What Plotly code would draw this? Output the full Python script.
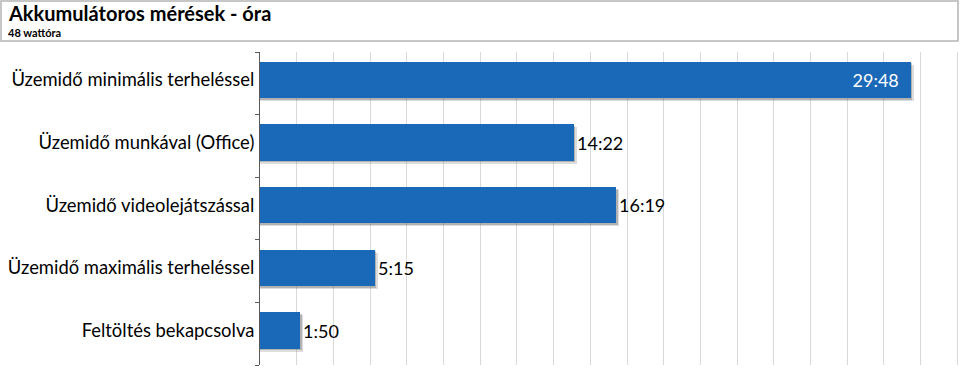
import plotly.graph_objects as go

# ---- data ----
categories = [
    "Üzemidő minimális terheléssel",
    "Üzemidő munkával (Office)",
    "Üzemidő videolejátszással",
    "Üzemidő maximális terheléssel",
    "Feltöltés bekapcsolva",
]
labels = ["29:48", "14:22", "16:19", "5:15", "1:50"]
minutes = [29 * 60 + 48, 14 * 60 + 22, 16 * 60 + 19, 5 * 60 + 15, 1 * 60 + 50]
title_text = "Akkumulátoros mérések - óra"
subtitle_text = "48 wattóra"

# ---- style constants ----
W, H = 960, 380
M_L, M_R, M_T, M_B = 260, 0, 52, 15
PX_PER_MIN = 0.364
X_MAX = (W - M_L - M_R) / PX_PER_MIN
GRID_STEP = 36.7 / PX_PER_MIN
BAR_W = 0.58
Y_TOP, Y_BOT = -0.448, 4.552
PX_PER_UNIT = (H - M_T - M_B) / (Y_BOT - Y_TOP)
SH_DX = 3 / PX_PER_MIN
SH_DY = 3 / PX_PER_UNIT
FONT = "Lato"
LABEL_SIZE = 18.4
VALUE_SIZE = 18
BAR_COLOR = "#1a68b8"

pos = list(range(len(categories)))

fig = go.Figure()
# soft shadow (two layers)
fig.add_trace(go.Bar(
    y=[p + SH_DY for p in pos], x=[v + SH_DX for v in minutes], orientation="h",
    width=BAR_W, marker=dict(color="rgba(120,120,120,0.25)", line=dict(width=0)),
    hoverinfo="skip", showlegend=False,
))
fig.add_trace(go.Bar(
    y=[p + SH_DY / 2 for p in pos], x=[v + SH_DX / 2 for v in minutes], orientation="h",
    width=BAR_W, marker=dict(color="rgba(80,80,80,0.3)", line=dict(width=0)),
    hoverinfo="skip", showlegend=False,
))
fig.add_trace(go.Bar(
    y=pos, x=minutes, orientation="h", width=BAR_W,
    marker=dict(color=BAR_COLOR, line=dict(width=0)),
    text=[labels[0] + "\u00a0\u00a0"] + labels[1:],
    textposition=["inside"] + ["outside"] * (len(labels) - 1),
    insidetextanchor="end",
    insidetextfont=dict(color="white", size=VALUE_SIZE, family=FONT),
    outsidetextfont=dict(color="black", size=VALUE_SIZE, family=FONT),
    constraintext="none", cliponaxis=False,
    showlegend=False,
))

fig.update_layout(
    width=W, height=H,
    margin=dict(l=M_L, r=M_R, t=M_T, b=M_B, pad=0, autoexpand=False),
    paper_bgcolor="white", plot_bgcolor="white",
    barmode="overlay", bargap=0,
    font=dict(family=FONT, color="black"),
    xaxis=dict(
        range=[0, X_MAX], showgrid=True, gridcolor="#d9d9d9", gridwidth=1,
        tick0=0, dtick=GRID_STEP, showticklabels=False, zeroline=False,
        showline=False, ticks="", automargin=False,
    ),
    yaxis=dict(
        range=[Y_BOT, Y_TOP], tickmode="array", tickvals=pos, ticktext=categories,
        ticks="", showgrid=False, zeroline=False, automargin=False,
        showline=True, linecolor="#595959", linewidth=1,
        tickfont=dict(size=LABEL_SIZE, family=FONT, color="black"),
        ticklabelstandoff=1,
        minor=dict(tickmode="linear", tick0=Y_TOP, dtick=1, ticks="outside",
                   ticklen=4, tickcolor="#595959", showgrid=False),
    ),
    shapes=[dict(
        type="rect", xref="paper", yref="paper",
        xsizemode="pixel", ysizemode="pixel", xanchor=0, yanchor=1,
        x0=-(M_L - 1), x1=W - M_L - 2, y0=M_T - 1, y1=M_T - 41,
        line=dict(color="#b4b4b4", width=1.5), fillcolor="rgba(0,0,0,0)", layer="below",
    )],
    annotations=[
        dict(text="<b>" + title_text + "</b>", xref="paper", yref="paper",
             x=(6 - M_L) / (W - M_L - M_R), y=(H - M_B - 12.5) / (H - M_T - M_B),
             xanchor="left", yanchor="middle", showarrow=False,
             font=dict(size=20, family=FONT, color="black")),
        dict(text="<b>" + subtitle_text + "</b>", xref="paper", yref="paper",
             x=(6 - M_L) / (W - M_L - M_R), y=(H - M_B - 32.5) / (H - M_T - M_B),
             xanchor="left", yanchor="middle", showarrow=False,
             font=dict(size=11, family=FONT, color="black")),
    ],
)

fig.write_html("out.html", config={"displayModeBar": False},
               post_script="document.body.style.margin='0';")
